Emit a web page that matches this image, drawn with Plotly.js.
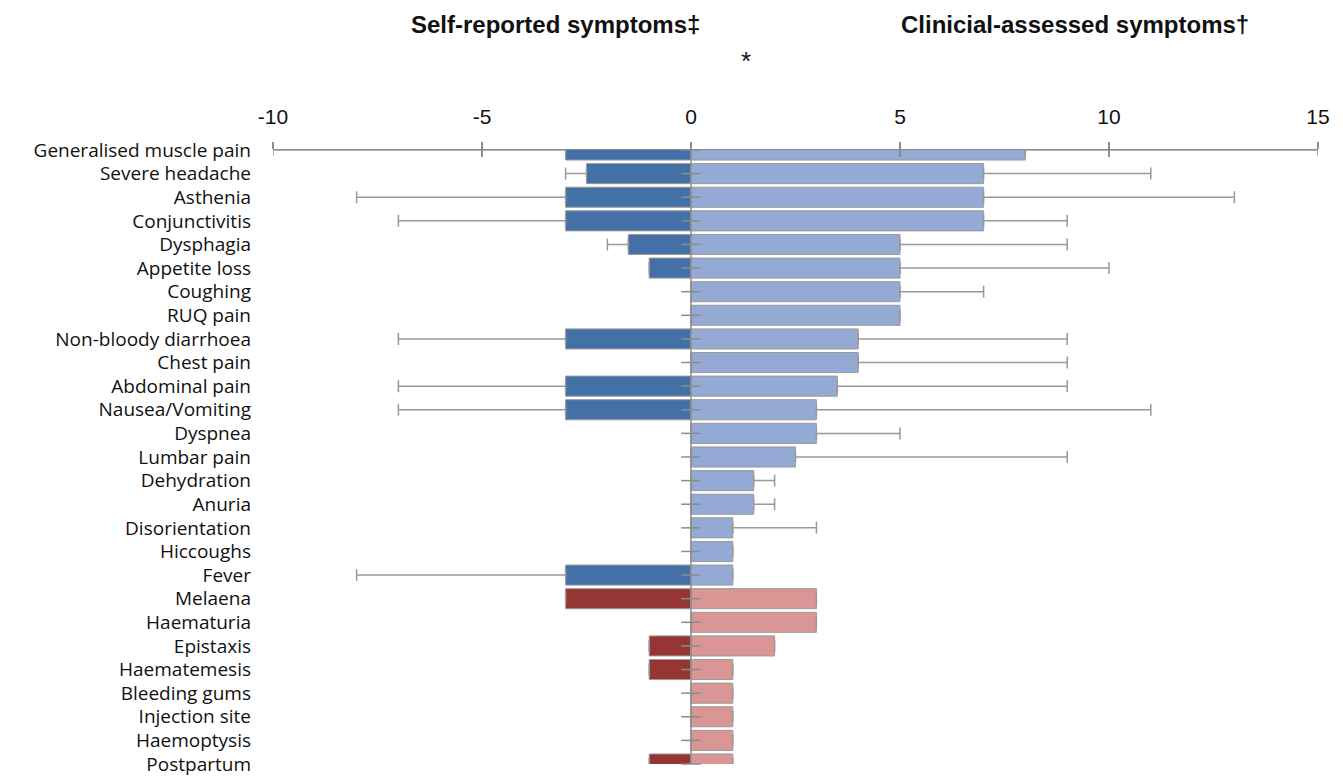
<!DOCTYPE html>
<html>
<head>
<meta charset="utf-8">
<script src="https://cdn.plot.ly/plotly-3.0.1.min.js"></script>
<style>html,body{margin:0;padding:0;background:#fff;}#chart{width:1343px;height:777px;}</style>
</head>
<body>
<div id="chart"></div>
<script>
// ---- data ----
const categories = [
  "Generalised muscle pain","Severe headache","Asthenia","Conjunctivitis","Dysphagia",
  "Appetite loss","Coughing","RUQ pain","Non-bloody diarrhoea","Chest pain",
  "Abdominal pain","Nausea/Vomiting","Dyspnea","Lumbar pain","Dehydration",
  "Anuria","Disorientation","Hiccoughs","Fever","Melaena","Haematuria",
  "Epistaxis","Haematemesis","Bleeding gums","Injection site","Haemoptysis","Postpartum"
];
// symptom group: "g" = general, "h" = haemorrhagic
const groups = ["g","g","g","g","g","g","g","g","g","g","g","g","g","g","g","g","g","g","g",
                "h","h","h","h","h","h","h","h"];
const selfReported = [-3,-2.5,-3,-3,-1.5,-1,0,0,-3,0,-3,-3,0,0,0,0,0,0,-3,-3,0,-1,-1,0,0,0,-1];
const selfReportedErr = [7,0.5,5,4,0.5,0,0,0,4,0,4,4,0,0,0,0,0,0,5,0,0,0,0,0,0,0,0];
const clinical = [8,7,7,7,5,5,5,5,4,4,3.5,3,3,2.5,1.5,1.5,1,1,1,3,3,2,1,1,1,1,1];
const clinicalErr = [7,4,6,2,4,5,2,0,5,5,5.5,8,2,6.5,0.5,0.5,2,0,0,0,0,0,0,0,0,0,0];
const xTicks = [-10,-5,0,5,10,15];

// ---- styles ----
const selfColors = {g:"#4470a8", h:"#963634"};
const clinColors = {g:"#94a9d3", h:"#da9694"};
const gray = "#8c8c8c";
const zeros = categories.map(() => 0);

const traces = [
  {
    type:"bar", orientation:"h", name:"Self-reported",
    x: selfReported, y: categories,
    marker:{color: groups.map(g => selfColors[g]), line:{color:"#9a9a9a", width:1}},
    error_x:{type:"data", symmetric:false, array: zeros, arrayminus: selfReportedErr,
             color:"#999999", thickness:1.5, width:6},
    hoverinfo:"x+y"
  },
  {
    type:"bar", orientation:"h", name:"Clinical-assessed",
    x: clinical, y: categories,
    marker:{color: groups.map(g => clinColors[g]), line:{color:"#9a9a9a", width:1}},
    error_x:{type:"data", symmetric:false, array: clinicalErr, arrayminus: zeros,
             color:"#999999", thickness:1.5, width:6},
    hoverinfo:"x+y"
  },
  {
    // category-axis tick marks crossing the vertical axis at 0
    type:"scatter", mode:"markers", x: zeros, y: categories, xaxis:"x", yaxis:"y",
    marker:{symbol:"line-ew", size:14, line:{color:gray, width:1.5}},
    hoverinfo:"skip", cliponaxis:false, showlegend:false
  },
  // dummy trace to activate xaxis2 tick marks
  {type:"scatter", mode:"markers", x:[null], y:[null], xaxis:"x2", yaxis:"y",
   hoverinfo:"skip", showlegend:false}
];

const layout = {
  width:1343, height:777,
  paper_bgcolor:"#ffffff", plot_bgcolor:"#ffffff",
  margin:{l:273, r:25, t:150, b:13},
  barmode:"overlay", bargap:0.15,
  showlegend:false,
  font:{family:"Liberation Sans, Arial, sans-serif", color:"#000"},
  xaxis:{
    side:"top", range:[-10,15], tickvals:xTicks, ticktext:xTicks.map(String),
    showgrid:false, zeroline:false, showline:true, linecolor:gray, linewidth:1.5,
    ticks:"outside", ticklen:7, tickwidth:1.5, tickcolor:gray,
    tickfont:{family:"Liberation Sans Narrow, Liberation Sans, Arial", size:21, color:"#111"},
    ticklabelstandoff:9, fixedrange:true
  },
  xaxis2:{
    overlaying:"x", side:"top", range:[-10,15], tickvals:xTicks, showticklabels:false,
    showgrid:false, zeroline:false, showline:false,
    ticks:"inside", ticklen:7, tickwidth:1.5, tickcolor:gray, fixedrange:true
  },
  yaxis:{
    type:"category", categoryorder:"array", categoryarray:categories,
    range:[categories.length-1, 0],
    tickmode:"array", tickvals:categories, ticktext:categories,
    showgrid:false, zeroline:false, showline:false, ticks:"",
    tickfont:{family:"Open Sans, Noto Sans, sans-serif", size:19, color:"#111"},
    ticklabelstandoff:21, fixedrange:true
  },
  shapes:[
    {type:"line", xref:"x", yref:"paper", x0:0, x1:0, y0:0, y1:1,
     line:{color:gray, width:1.5}, layer:"above"}
  ],
  annotations:[
    {text:"<b>Self-reported symptoms‡</b>", xref:"paper", yref:"paper", x:0.2699, y:1.2036,
     xanchor:"center", yanchor:"middle", showarrow:false,
     font:{family:"Liberation Sans, Arial", size:24, color:"#111"}},
    {text:"<b>Clinicial-assessed symptoms†</b>", xref:"paper", yref:"paper", x:0.7675, y:1.2036,
     xanchor:"center", yanchor:"middle", showarrow:false,
     font:{family:"Liberation Sans, Arial", size:24, color:"#111"}},
    {text:"*", xref:"paper", yref:"paper", x:0.4526, y:1.145,
     xanchor:"center", yanchor:"middle", showarrow:false,
     font:{family:"Liberation Sans, Arial", size:26, color:"#111"}}
  ]
};

Plotly.newPlot("chart", traces, layout, {displayModeBar:false, staticPlot:true});
</script>
</body>
</html>
